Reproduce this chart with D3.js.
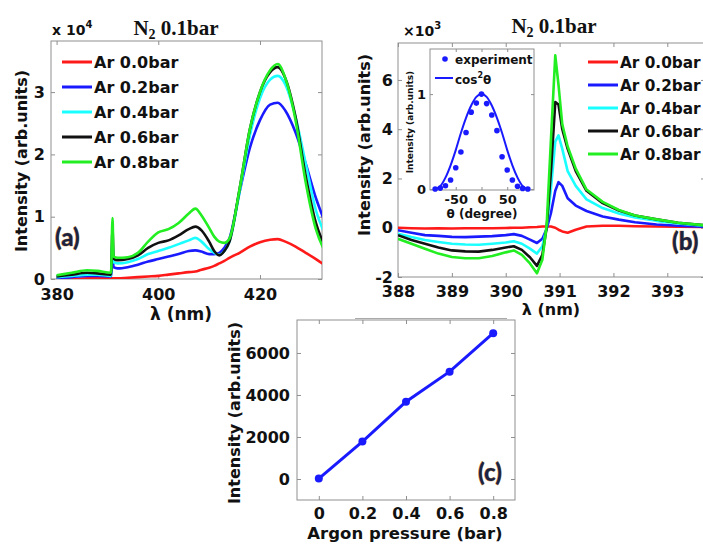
<!DOCTYPE html>
<html>
<head>
<meta charset="utf-8">
<script src="https://cdn.jsdelivr.net/npm/d3@7"></script>
<style>
    body { margin: 0; background: #fff; }
    svg text { font-family: "DejaVu Sans", sans-serif; font-weight: bold; fill: #111; }
</style>
</head>
<body>
<div id="fig"></div>
<script>
// ---------- data ----------
const seriesNames = ["Ar 0.0bar", "Ar 0.2bar", "Ar 0.4bar", "Ar 0.6bar", "Ar 0.8bar"];
const seriesColors = ["#ff1a1a", "#1a1aff", "#1affff", "#111111", "#22ee22"];

// (a) emission spectra, intensity in units of 1e4
const waveA = [380, 383, 386, 388, 390.7, 391.0, 391.2, 392, 394, 396, 398, 400, 402, 404, 406, 407.3,
    408.5, 410, 411, 412, 413, 414, 416, 418, 420, 422, 423.5, 425, 427, 429, 431, 432.6];
const specA00 = [0.0, 0.0, 0.01, 0.01, 0.01, 0.01, 0.01, 0.01, 0.02, 0.03, 0.04, 0.05, 0.07, 0.09, 0.11, 0.12,
    0.15, 0.18, 0.21, 0.25, 0.29, 0.34, 0.42, 0.52, 0.59, 0.63, 0.64, 0.60, 0.52, 0.42, 0.32, 0.23];
const specA02 = [0.02, 0.03, 0.05, 0.05, 0.04, 0.45, 0.19, 0.17, 0.19, 0.23, 0.28, 0.32, 0.36, 0.40, 0.45, 0.46,
    0.44, 0.40, 0.40, 0.42, 0.50, 0.65, 1.40, 2.10, 2.55, 2.80, 2.83, 2.70, 2.35, 1.85, 1.30, 0.95];
const specA04 = [0.03, 0.05, 0.07, 0.07, 0.05, 0.60, 0.27, 0.25, 0.27, 0.32, 0.40, 0.45, 0.50, 0.56, 0.62, 0.66,
    0.60, 0.48, 0.42, 0.39, 0.45, 0.60, 1.40, 2.30, 2.90, 3.20, 3.26, 3.12, 2.60, 1.85, 1.10, 0.75];
const specA06 = [0.04, 0.07, 0.10, 0.09, 0.07, 0.80, 0.33, 0.30, 0.32, 0.38, 0.50, 0.58, 0.62, 0.70, 0.80, 0.84,
    0.78, 0.60, 0.45, 0.38, 0.45, 0.60, 1.45, 2.40, 3.00, 3.32, 3.40, 3.22, 2.60, 1.65, 0.90, 0.55];
const specA08 = [0.06, 0.10, 0.14, 0.13, 0.10, 0.98, 0.36, 0.34, 0.35, 0.42, 0.60, 0.75, 0.80, 0.90, 1.05, 1.13,
    1.02, 0.82, 0.68, 0.60, 0.58, 0.65, 1.45, 2.40, 3.00, 3.35, 3.45, 3.22, 2.55, 1.55, 0.80, 0.47];

// (b) 391 nm region, intensity in units of 1e3
const waveB = [388, 388.25, 388.5, 388.75, 389, 389.25, 389.5, 389.75, 390, 390.15, 390.3, 390.45, 390.58, 390.68,
    390.76, 390.84, 390.92, 390.98, 391.05, 391.15, 391.3, 391.5, 391.8, 392.1, 392.4, 392.8, 393.2, 393.7];
const specB00 = [0.0, -0.02, -0.03, -0.02, -0.03, -0.02, -0.02, -0.02, -0.01, 0.0, 0.0, 0.02, 0.03, 0.05,
    0.05, 0.05, 0.0, -0.08, -0.15, -0.2, -0.08, 0.05, 0.08, 0.08, 0.06, 0.05, 0.04, 0.03];
const specB02 = [-0.1, -0.2, -0.3, -0.33, -0.37, -0.38, -0.36, -0.34, -0.3, -0.26, -0.33, -0.48, -0.62, -0.45,
    -0.05, 0.6, 1.5, 1.85, 1.7, 1.2, 0.9, 0.68, 0.46, 0.33, 0.22, 0.13, 0.08, 0.04];
const specB04 = [-0.24, -0.38, -0.5, -0.58, -0.65, -0.68, -0.69, -0.65, -0.6, -0.55, -0.65, -0.85, -1.05, -0.75,
    0.0, 1.6, 3.5, 3.75, 3.2, 2.3, 1.7, 1.15, 0.8, 0.58, 0.42, 0.28, 0.17, 0.08];
const specB06 = [-0.3, -0.5, -0.65, -0.8, -0.92, -0.96, -0.97, -0.9, -0.8, -0.75, -0.9, -1.2, -1.55, -1.1,
    0.0, 2.3, 5.1, 5.0, 4.0, 3.2, 2.3, 1.5, 1.0, 0.7, 0.5, 0.34, 0.2, 0.1];
const specB08 = [-0.45, -0.65, -0.85, -1.05, -1.19, -1.24, -1.24, -1.15, -1.0, -0.92, -1.1, -1.45, -1.85, -1.3,
    0.1, 3.6, 7.0, 5.8, 4.2, 3.3, 2.4, 1.55, 1.05, 0.72, 0.5, 0.34, 0.2, 0.1];

// inset: polarization dependence
const thetaDeg = [-90, -80, -70, -60, -50, -40, -30, -20, -10, 0, 10, 20, 30, 40, 50, 60, 70, 80, 90];
const expInt = [0, 0.01, 0.035, 0.095, 0.225, 0.39, 0.595, 0.81, 0.905, 1.0, 0.9, 0.78, 0.615, 0.34, 0.2, 0.095, 0.03, 0.007, 0];
const fitInt = [0, 0.03, 0.12, 0.25, 0.41, 0.59, 0.75, 0.88, 0.97, 1.0, 0.97, 0.88, 0.75, 0.59, 0.41, 0.25, 0.12, 0.03, 0];

// (c) peak intensity vs argon pressure
const argonBar = [0, 0.2, 0.4, 0.6, 0.8];
const peakInt = [20, 1780, 3680, 5110, 6940];

// ---------- drawing ----------
const svg = d3.select("#fig").append("svg")
    .attr("width", 703)
    .attr("height", 544);

const frameColor = "#8f8f8f";

// MATLAB style box with inward ticks on all four sides
function drawAxes(x, y, xTicks, yTicks, o) {
    const [xl, xr] = x.range();
    const [yb, yt] = y.range();
    const g = svg.append("g");
    g.append("rect")
        .attr("x", xl).attr("y", yt)
        .attr("width", xr - xl).attr("height", yb - yt)
        .attr("fill", "#fff").attr("stroke", frameColor);

    g.append("g").attr("transform", `translate(0,${yb})`)
        .call(d3.axisBottom(x).tickValues(xTicks).tickSizeInner(-o.tick).tickSizeOuter(0)
            .tickPadding(o.padX).tickFormat(o.fmtX || (d => d)));
    g.append("g").attr("transform", `translate(0,${yt})`)
        .call(d3.axisTop(x).tickValues(xTicks).tickSizeInner(-o.tick).tickSizeOuter(0).tickFormat(""));
    g.append("g").attr("transform", `translate(${xl},0)`)
        .call(d3.axisLeft(y).tickValues(yTicks).tickSizeInner(-o.tick).tickSizeOuter(0)
            .tickPadding(o.padY).tickFormat(o.fmtY || (d => d)));
    g.append("g").attr("transform", `translate(${xr},0)`)
        .call(d3.axisRight(y).tickValues(yTicks).tickSizeInner(-o.tick).tickSizeOuter(0).tickFormat(""));

    g.selectAll(".domain").remove();
    g.selectAll(".tick line").attr("stroke", frameColor);
    g.selectAll(".tick text").attr("font-size", o.fs);
    return g;
}

function clipFor(id, x, y) {
    svg.append("clipPath").attr("id", id).append("rect")
        .attr("x", x.range()[0]).attr("y", y.range()[1])
        .attr("width", x.range()[1] - x.range()[0])
        .attr("height", y.range()[0] - y.range()[1]);
    return `url(#${id})`;
}

function title(cx, baseline) {
    const t = svg.append("text")
        .attr("x", cx).attr("y", baseline)
        .attr("text-anchor", "middle")
        .style("font-family", "'Liberation Serif', serif")
        .attr("font-size", 21);
    t.append("tspan").text("N");
    t.append("tspan").attr("font-size", 14).attr("dy", 4).text("2");
    t.append("tspan").attr("dy", -4).text(" 0.1bar");
}

function exponent(x0, baseline, sign, power) {
    const t = svg.append("text").attr("x", x0).attr("y", baseline).attr("font-size", 14);
    t.append("tspan").text(sign + "10");
    t.append("tspan").attr("font-size", 10).attr("dy", -7).text(power);
}

function yLabel(x0, cy, txt, fs) {
    svg.append("text")
        .attr("transform", `translate(${x0},${cy}) rotate(-90)`)
        .attr("text-anchor", "middle")
        .attr("font-size", fs)
        .text(txt);
}

function xLabel(cx, baseline, txt, fs) {
    svg.append("text")
        .attr("x", cx).attr("y", baseline)
        .attr("text-anchor", "middle")
        .attr("font-size", fs)
        .text(txt);
}

function panelTag(x0, baseline, txt) {
    svg.append("text")
        .attr("x", x0).attr("y", baseline)
        .attr("font-size", 24)
        .style("font-family", "Lato, sans-serif")
        .style("font-weight", 900)
        .style("fill", "#1b2340")
        .attr("stroke", "#c98a3c")
        .attr("stroke-width", 0.7)
        .attr("paint-order", "stroke")
        .text(txt);
}

function legend(x0, y0, dy, fs) {
    seriesNames.forEach((name, i) => {
        const yy = y0 + i * dy;
        svg.append("line")
            .attr("x1", x0).attr("x2", x0 + 30)
            .attr("y1", yy).attr("y2", yy)
            .attr("stroke", seriesColors[i]).attr("stroke-width", 3);
        svg.append("text")
            .attr("x", x0 + 32).attr("y", yy + 6)
            .attr("font-size", fs)
            .text(name);
    });
}

// ----- panel (a) -----
const xA = d3.scaleLinear().domain([378.9, 432.2]).range([51, 322]);
const yA = d3.scaleLinear().domain([0, 3.82]).range([279, 41]);
drawAxes(xA, yA, [380, 400, 420], [0, 1, 2, 3], { tick: 4, padX: 10, padY: 6, fs: 16 });

const lineA = d3.line().x(d => xA(d[0])).y(d => yA(d[1])).curve(d3.curveMonotoneX);
const clipA = clipFor("clipA", xA, yA);
[specA00, specA02, specA04, specA06, specA08].forEach((s, i) => {
    svg.append("path")
        .datum(waveA.map((w, k) => [w, s[k]]))
        .attr("clip-path", clipA)
        .attr("fill", "none")
        .attr("stroke", seriesColors[i])
        .attr("stroke-width", 2.6)
        .attr("stroke-linejoin", "round")
        .attr("d", lineA);
});
legend(62, 62, 25, 16);
title(176, 35);
exponent(52, 35, "x ", "4");
yLabel(27, 161, "Intensity (arb.units)", 16);
xLabel(181, 320, "λ (nm)", 17);
panelTag(55, 246, "(a)");

// ----- panel (b) -----
const xB = d3.scaleLinear().domain([388, 393.7]).range([398, 705]);
const yB = d3.scaleLinear().domain([-2, 7.5]).range([277, 43]);
drawAxes(xB, yB, [388, 389, 390, 391, 392, 393], [-2, 0, 2, 4, 6], { tick: 4, padX: 9, padY: 5, fs: 16 });

const lineB = d3.line().x(d => xB(d[0])).y(d => yB(d[1]));
const clipB = clipFor("clipB", xB, yB);
[specB00, specB02, specB04, specB06, specB08].forEach((s, i) => {
    svg.append("path")
        .datum(waveB.map((w, k) => [w, s[k]]))
        .attr("clip-path", clipB)
        .attr("fill", "none")
        .attr("stroke", seriesColors[i])
        .attr("stroke-width", 2.6)
        .attr("stroke-linejoin", "round")
        .attr("d", lineB);
});
legend(588, 62, 23, 15.3);
title(554, 33);
exponent(403, 36, "×", "3");
yLabel(370, 145, "Intensity (arb.units)", 16);
xLabel(551, 315, "λ (nm)", 16);
panelTag(672, 250, "(b)");

// inset
const xI = d3.scaleLinear().domain([-100, 102]).range([430, 534]);
const yI = d3.scaleLinear().domain([-0.01, 1.475]).range([190, 49]);
drawAxes(xI, yI, [-50, 0, 50], [0, 1], { tick: 3, padX: 5, padY: 4, fs: 13 });
svg.append("path")
    .datum(thetaDeg.map((t, k) => [t, fitInt[k]]))
    .attr("fill", "none")
    .attr("stroke", "#1a1aff")
    .attr("stroke-width", 2)
    .attr("d", d3.line().x(d => xI(d[0])).y(d => yI(d[1])).curve(d3.curveMonotoneX));
svg.append("g").selectAll("circle")
    .data(thetaDeg.map((t, k) => [t, expInt[k]]))
    .join("circle")
    .attr("cx", d => xI(d[0]))
    .attr("cy", d => yI(d[1]))
    .attr("r", 2.8)
    .attr("fill", "#1a1aff");
svg.append("circle").attr("cx", 445).attr("cy", 59).attr("r", 2.8).attr("fill", "#1a1aff");
svg.append("text").attr("x", 455).attr("y", 64).attr("font-size", 12).text("experiment");
svg.append("line").attr("x1", 435).attr("x2", 453).attr("y1", 78).attr("y2", 78)
    .attr("stroke", "#1a1aff").attr("stroke-width", 2);
const cosT = svg.append("text").attr("x", 455).attr("y", 84).attr("font-size", 12);
cosT.append("tspan").text("cos");
cosT.append("tspan").attr("font-size", 8).attr("dy", -6).text("2");
cosT.append("tspan").attr("dy", 6).text("θ");
yLabel(413, 122, "Intensity (arb.units)", 9);
xLabel(482, 218, "θ (degree)", 12);

// separator line under panel (b)
svg.append("line").attr("x1", 355).attr("x2", 507).attr("y1", 318.5).attr("y2", 318.5)
    .attr("stroke", "#aaa").attr("stroke-width", 1);

// ----- panel (c) -----
const xC = d3.scaleLinear().domain([-0.1, 0.9]).range([297, 515]);
const yC = d3.scaleLinear().domain([-1000, 7570]).range([500, 320]);
drawAxes(xC, yC, argonBar, [0, 2000, 4000, 6000], { tick: 4, padX: 8, padY: 7, fs: 16 });
svg.append("path")
    .datum(argonBar.map((p, k) => [p, peakInt[k]]))
    .attr("fill", "none")
    .attr("stroke", "#1a1aff")
    .attr("stroke-width", 3)
    .attr("d", d3.line().x(d => xC(d[0])).y(d => yC(d[1])));
svg.append("g").selectAll("circle")
    .data(argonBar.map((p, k) => [p, peakInt[k]]))
    .join("circle")
    .attr("cx", d => xC(d[0]))
    .attr("cy", d => yC(d[1]))
    .attr("r", 4)
    .attr("fill", "#1a1aff");
yLabel(240, 413, "Intensity (arb.units)", 16);
xLabel(405, 539, "Argon pressure (bar)", 16.5);
panelTag(478, 481, "(c)");
</script>
</body>
</html>
